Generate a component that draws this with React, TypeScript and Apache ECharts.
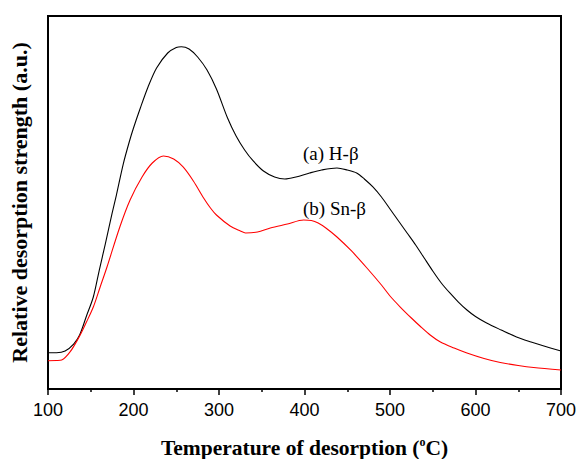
import React, { useEffect, useRef } from "react";
import * as echarts from "echarts";

// Temperatures (°C) and curve heights (distance from bottom of plot, arbitrary units)
const temperaturesA = [100, 110, 120, 130, 137, 145, 153, 160, 167, 175, 180, 188, 195, 200, 208, 217, 227, 240, 250, 256, 265, 275, 286, 297, 310, 320, 330, 340, 352, 365, 377, 390, 406, 420, 438, 450, 461, 470, 480, 490, 500, 510, 520, 530, 540, 550, 560, 570, 580, 590, 600, 613, 630, 648, 665, 680, 700];
const pixelsA = [352.7, 352.7, 351, 344, 335, 316, 297, 270, 244, 213, 195, 164, 142, 128, 108, 87, 68, 53, 47.5, 46.7, 49, 57, 70, 89, 118, 136, 150, 161, 171, 177, 179, 177, 173, 170, 168, 170, 173, 179, 187, 197, 209, 221, 233, 245, 258, 271, 283, 293, 302, 310, 316.5, 323, 330, 337, 342, 346, 351];
const temperaturesB = [100, 110, 116, 126, 137, 145, 153, 161, 169, 184, 196, 210, 222, 235, 247, 258, 270, 282, 290, 297, 313, 325, 331, 345, 360, 380, 399, 408, 416, 425, 438, 455, 473, 490, 500, 512, 525, 535, 547, 559, 575, 590, 610, 629, 650, 668, 700];
const pixelsB = [360.7, 360.5, 360, 351.7, 336, 322, 307, 287, 267, 227, 200, 177, 163, 156, 159, 167, 181, 198, 208, 215, 226, 231, 233, 232, 228, 224, 220, 220.5, 223, 228, 237, 251, 268, 285, 296, 307, 318, 326, 335, 342, 348, 353, 358.5, 362.5, 365.5, 367.5, 370];

// intensities in arbitrary units (0..100)
const intensityA = pixelsA.map((p) => +((389 - p) / 3.73).toFixed(2));
const intensityB = pixelsB.map((p) => +((389 - p) / 3.73).toFixed(2));

const seriesNames = ["(a) H-β", "(b) Sn-β"];
const xTicks = { min: 100, max: 700, interval: 100 };

export default function App() {
  const ref = useRef<HTMLDivElement>(null);
  useEffect(() => {
    if (!ref.current) return;
    const chart = echarts.init(ref.current, null, { renderer: "svg" });
    chart.setOption({
      animation: false,
      backgroundColor: "#fff",
      grid: {
        left: 48, right: 18, top: 16, bottom: 70,
        containLabel: false, outerBoundsMode: "none",
        show: true, borderColor: "#000", borderWidth: 2,
      },
      xAxis: {
        type: "value",
        min: xTicks.min,
        max: xTicks.max,
        interval: xTicks.interval,
        axisLine: { show: true, lineStyle: { color: "#000", width: 2 } },
        axisTick: { show: true, inside: false, length: 6, lineStyle: { color: "#000", width: 1.5 } },
        minorTick: { show: true, splitNumber: 2, length: 3, lineStyle: { color: "#000", width: 1.5 } },
        splitLine: { show: false },
        axisLabel: { color: "#000", fontFamily: "Liberation Sans", fontSize: 18, margin: 12 },
        name: "{a|Temperature of desorption (}{s|o}{a|C)}",
        nameLocation: "middle",
        nameGap: 47,
        nameTextStyle: {
          rich: {
            a: { fontFamily: "Liberation Serif", fontWeight: "bold", fontSize: 21.5, color: "#000" },
            s: { fontFamily: "Liberation Serif", fontWeight: "bold", fontSize: 12, color: "#000", verticalAlign: "top", padding: [0, 0, 11, 0] },
          },
        },
      },
      yAxis: {
        type: "value",
        min: 0,
        max: 100,
        axisLine: { show: true, lineStyle: { color: "#000", width: 2 } },
        axisTick: { show: false },
        axisLabel: { show: false },
        splitLine: { show: false },
        name: "Relative desorption strength (a.u.)",
        nameLocation: "middle",
        nameGap: 18,
        nameTextStyle: { fontFamily: "Liberation Serif", fontWeight: "bold", fontSize: 22, color: "#000" },
      },
      series: [
        {
          name: seriesNames[0],
          type: "line",
          smooth: 0.3,
          showSymbol: false,
          data: temperaturesA.map((t, i) => [t, intensityA[i]]),
          lineStyle: { color: "#000", width: 1.1 },
        },
        {
          name: seriesNames[1],
          type: "line",
          smooth: 0.3,
          showSymbol: false,
          data: temperaturesB.map((t, i) => [t, intensityB[i]]),
          lineStyle: { color: "#ff0000", width: 1.1 },
        },
      ],
      graphic: [
        { type: "text", left: 303, top: 144, style: { text: seriesNames[0], font: "19px 'Liberation Serif'", fill: "#000" } },
        { type: "text", left: 303, top: 199, style: { text: seriesNames[1], font: "19px 'Liberation Serif'", fill: "#000" } },
      ],
    });
    return () => chart.dispose();
  }, []);
  return <div ref={ref} style={{ width: 579, height: 459, position: "absolute", left: 0, top: 0 }} />;
}
